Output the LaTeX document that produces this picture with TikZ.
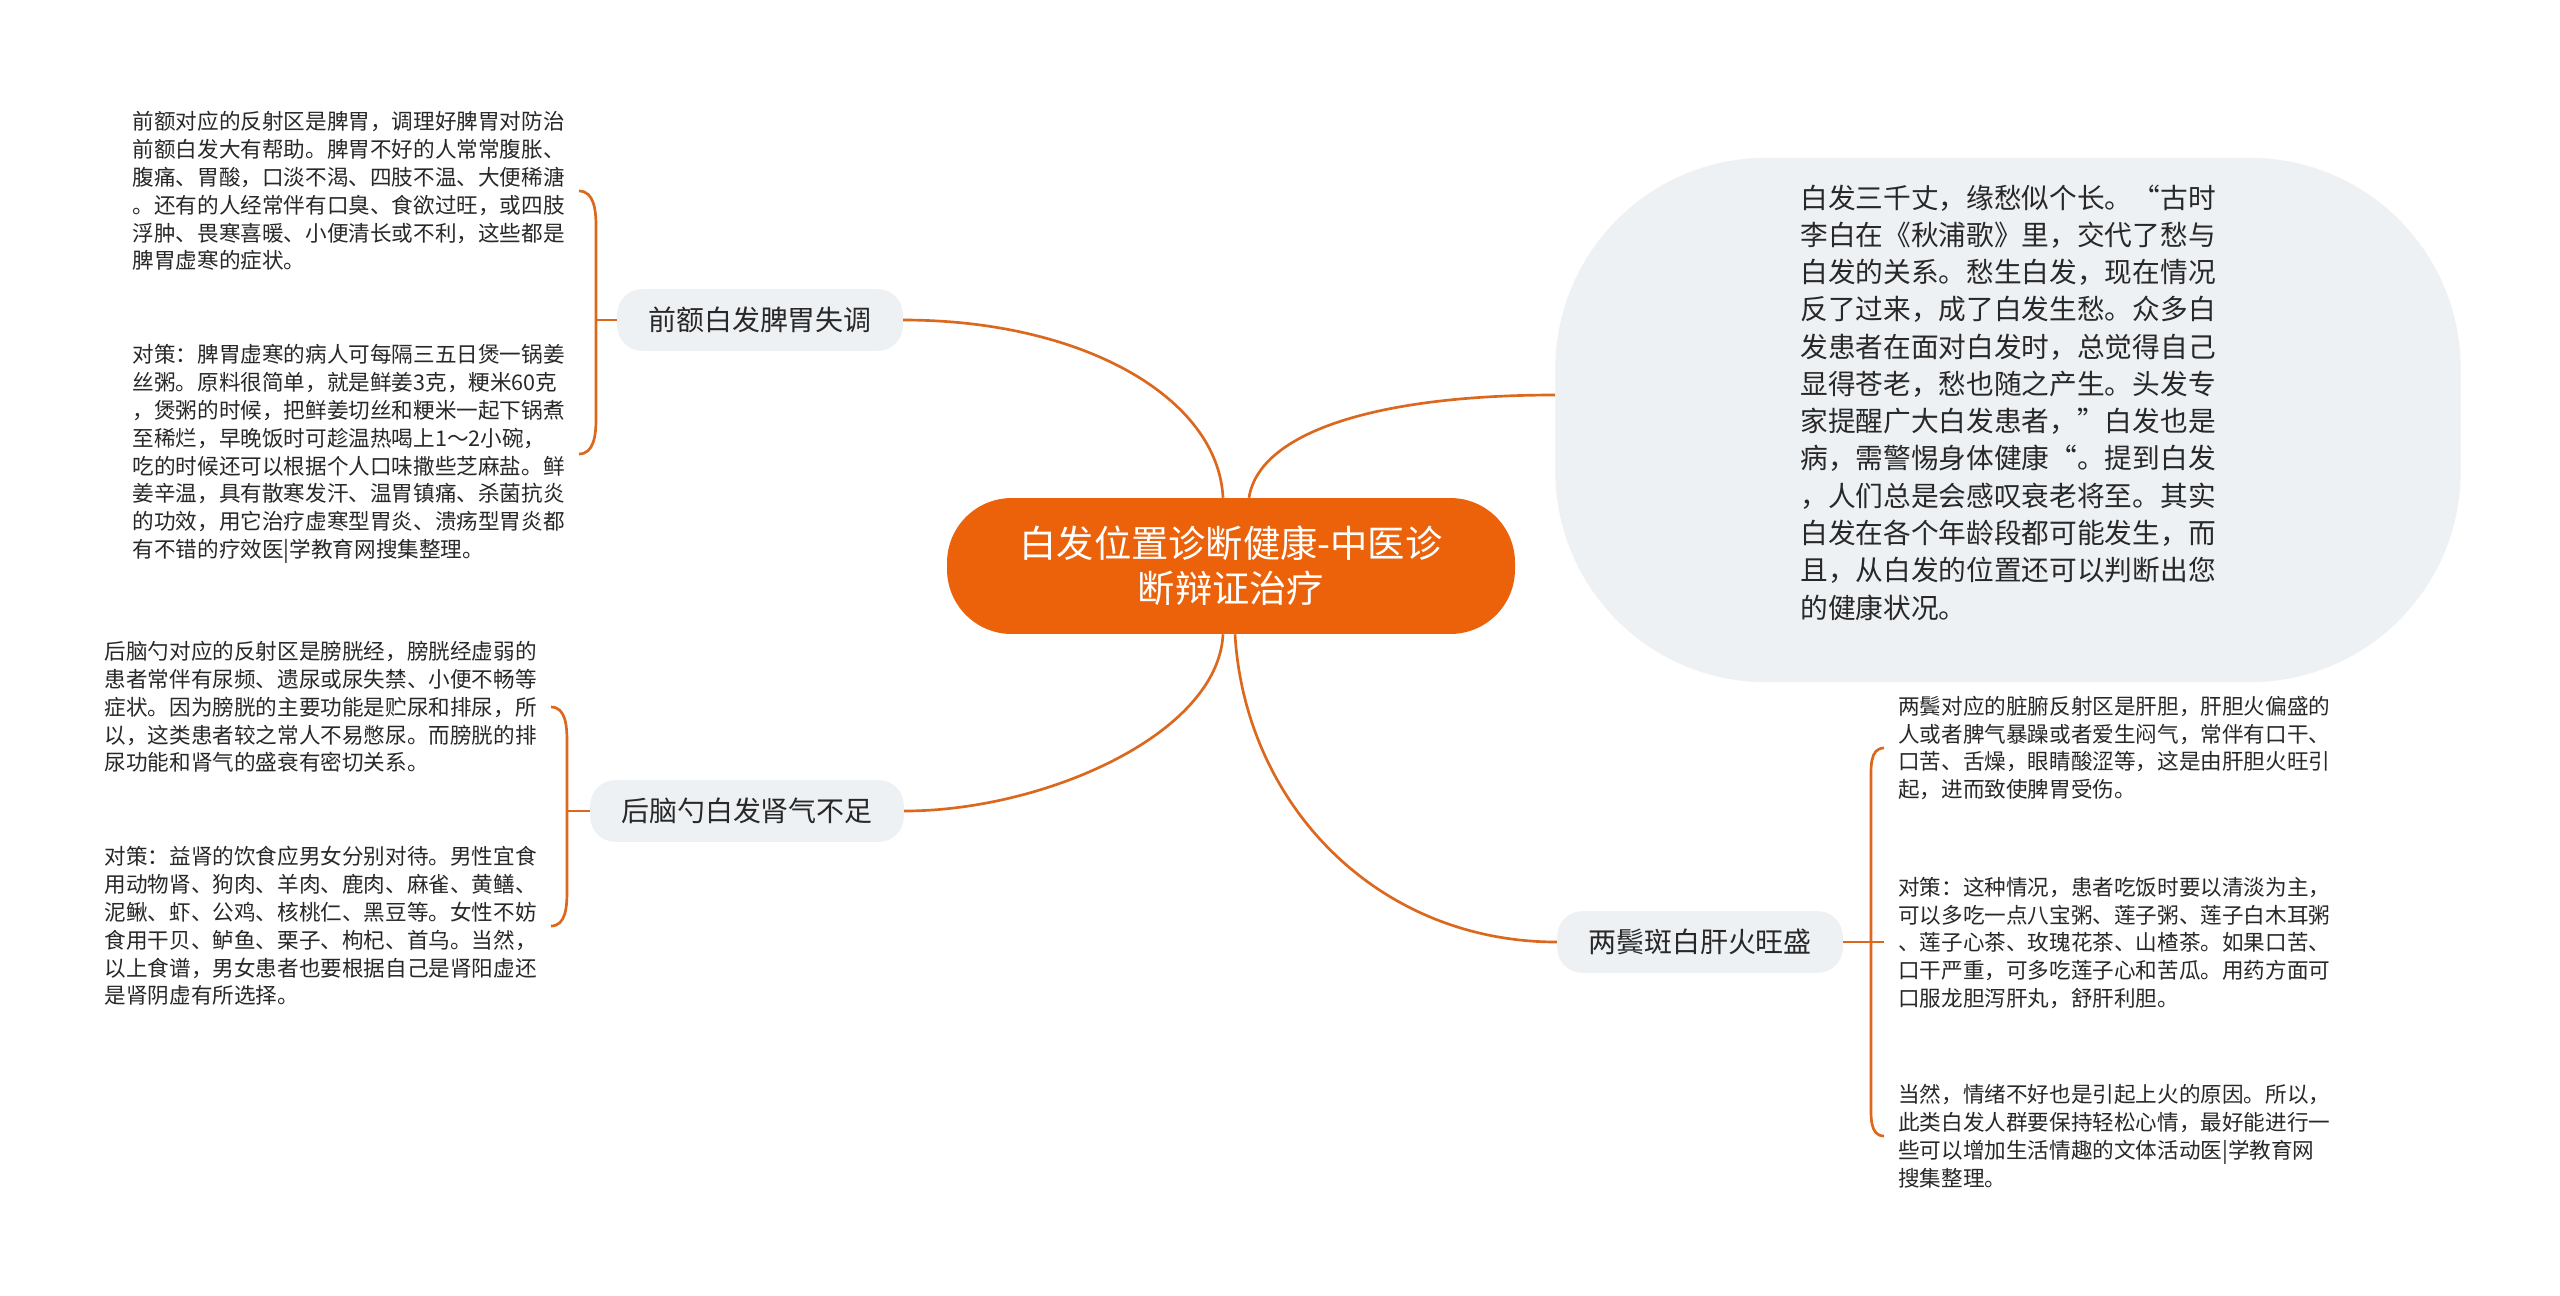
\documentclass[tikz,border=0pt]{standalone}
\usepackage{fontspec}
\setmainfont{Noto Sans CJK SC}
\usetikzlibrary{calc}
\definecolor{twigcol}{RGB}{220,104,30}
\definecolor{rootcol}{RGB}{235,98,10}
\definecolor{topiccol}{RGB}{238,241,244}
\definecolor{inkcol}{RGB}{40,40,40}
\tikzset{twig/.style={draw=twigcol, line width=1.9pt},
    rootbox/.style={fill=rootcol, text=white, rounded corners=46pt,
        minimum width=404pt, minimum height=96.7pt, align=center,
        font=\fontsize{26.5}{32}\selectfont},
    topicbox/.style={fill=topiccol, text=inkcol, rounded corners=18pt,
        minimum height=44pt, inner xsep=22pt,
        font=\fontsize{19.9}{24}\selectfont},
    introbox/.style={fill=topiccol, text=inkcol, rounded corners=150pt,
        minimum width=644pt, minimum height=373pt, align=left,
        font=\fontsize{19.7}{26.5}\selectfont},
    notetext/.style={text=inkcol, align=left, inner xsep=10pt, inner ysep=0pt,
        font=\fontsize{15.36}{19.8}\selectfont},
    }
\begin{document}
\begin{tikzpicture}[x=0.25mm, y=-0.25mm]
	\useasboundingbox (0,0) rectangle (2560,1295);
	\fill[white] (0,0) rectangle (2560,1295);
	% centre and main topics
	\node[rootbox] (root) at (1231,566) {白发位置诊断健康-中医诊\\断辩证治疗};
	\node[topicbox] (fore) at (760,320) {前额白发脾胃失调};
	\node[topicbox] (back) at (747,811) {后脑勺白发肾气不足};
	\node[topicbox] (temple) at (1700,942) {两鬓斑白肝火旺盛};
	\node[introbox] (intro) at (2008,420) {白发三千丈，缘愁似个长。“古时\\
		李白在《秋浦歌》里，交代了愁与\\
		白发的关系。愁生白发，现在情况\\
		反了过来，成了白发生愁。众多白\\
		发患者在面对白发时，总觉得自己\\
		显得苍老，愁也随之产生。头发专\\
		家提醒广大白发患者，”白发也是\\
		病，需警惕身体健康“。提到白发\\
		，人们总是会感叹衰老将至。其实\\
		白发在各个年龄段都可能发生，而\\
		且，从白发的位置还可以判断出您\\
		的健康状况。\\ \mbox{}};
	% notes
	\node[notetext, anchor=east] (foreA) at (579,191) {前额对应的反射区是脾胃，调理好脾胃对防治\\
		前额白发大有帮助。脾胃不好的人常常腹胀、\\
		腹痛、胃酸，口淡不渴、四肢不温、大便稀溏\\
		。还有的人经常伴有口臭、食欲过旺，或四肢\\
		浮肿、畏寒喜暖、小便清长或不利，这些都是\\
		脾胃虚寒的症状。};
	\node[notetext, anchor=east] (foreB) at (579,454) {对策：脾胃虚寒的病人可每隔三五日煲一锅姜\\
		丝粥。原料很简单，就是鲜姜3克，粳米60克\\
		，煲粥的时候，把鲜姜切丝和粳米一起下锅煮\\
		至稀烂，早晚饭时可趁温热喝上1～2小碗，\\
		吃的时候还可以根据个人口味撒些芝麻盐。鲜\\
		姜辛温，具有散寒发汗、温胃镇痛、杀菌抗炎\\
		的功效，用它治疗虚寒型胃炎、溃疡型胃炎都\\
		有不错的疗效医|学教育网搜集整理。};
	\node[notetext, anchor=east] (backA) at (551,707) {后脑勺对应的反射区是膀胱经，膀胱经虚弱的\\
		患者常伴有尿频、遗尿或尿失禁、小便不畅等\\
		症状。因为膀胱的主要功能是贮尿和排尿，所\\
		以，这类患者较之常人不易憋尿。而膀胱的排\\
		尿功能和肾气的盛衰有密切关系。};
	\node[notetext, anchor=east] (backB) at (551,926) {对策：益肾的饮食应男女分别对待。男性宜食\\
		用动物肾、狗肉、羊肉、鹿肉、麻雀、黄鳝、\\
		泥鳅、虾、公鸡、核桃仁、黑豆等。女性不妨\\
		食用干贝、鲈鱼、栗子、枸杞、首乌。当然，\\
		以上食谱，男女患者也要根据自己是肾阳虚还\\
		是肾阴虚有所选择。};
	\node[notetext, anchor=west] (templeA) at (1884,748) {两鬓对应的脏腑反射区是肝胆，肝胆火偏盛的\\
		人或者脾气暴躁或者爱生闷气，常伴有口干、\\
		口苦、舌燥，眼睛酸涩等，这是由肝胆火旺引\\
		起，进而致使脾胃受伤。};
	\node[notetext, anchor=west] (templeB) at (1884,943) {对策：这种情况，患者吃饭时要以清淡为主，\\
		可以多吃一点八宝粥、莲子粥、莲子白木耳粥\\
		、莲子心茶、玫瑰花茶、山楂茶。如果口苦、\\
		口干严重，可多吃莲子心和苦瓜。用药方面可\\
		口服龙胆泻肝丸，舒肝利胆。};
	\node[notetext, anchor=west] (templeC) at (1884,1136) {当然，情绪不好也是引起上火的原因。所以，\\
		此类白发人群要保持轻松心情，最好能进行一\\
		些可以增加生活情趣的文体活动医|学教育网\\
		搜集整理。};
	% main branches
	\draw[twig] ($(root.north)+(-8,0)$) .. controls +(-5,-100) and +(180,0) .. (fore.east);
	\draw[twig] ($(root.north)+(18,0)$) .. controls +(10,-65) and +(-180,0) .. ($(intro.west)+(0,-25)$);
	\draw[twig] ($(root.south)+(-8,0)$) .. controls +(-5,100) and +(140,0) .. (back.east);
	\draw[twig] ($(root.south)+(4,0)$) .. controls +(10,170) and +(-180,0) .. (temple.west);
	% brackets
	\coordinate (foreJ) at (596,320);
	\coordinate (backJ) at (567,811);
	\coordinate (templeJ) at (1871,942);
	\draw[twig] (fore.west) -- (foreJ);
	\draw[twig] (foreA.east) to[out=0, in=90] ++(17,35) -- (foreJ);
	\draw[twig] (foreB.east) to[out=0, in=-90] ++(17,-35) -- (foreJ);
	\draw[twig] (back.west) -- (backJ);
	\draw[twig] (backA.east) to[out=0, in=90] ++(16,35) -- (backJ);
	\draw[twig] (backB.east) to[out=0, in=-90] ++(16,-35) -- (backJ);
	\draw[twig] (temple.east) -- (temple.east -| templeB.west);
	\draw[twig] (templeA.west) to[out=180, in=90] ++(-13,35) -- (templeJ);
	\draw[twig] (templeC.west) to[out=180, in=-90] ++(-13,-35) -- (templeJ);
\end{tikzpicture}
\end{document}
